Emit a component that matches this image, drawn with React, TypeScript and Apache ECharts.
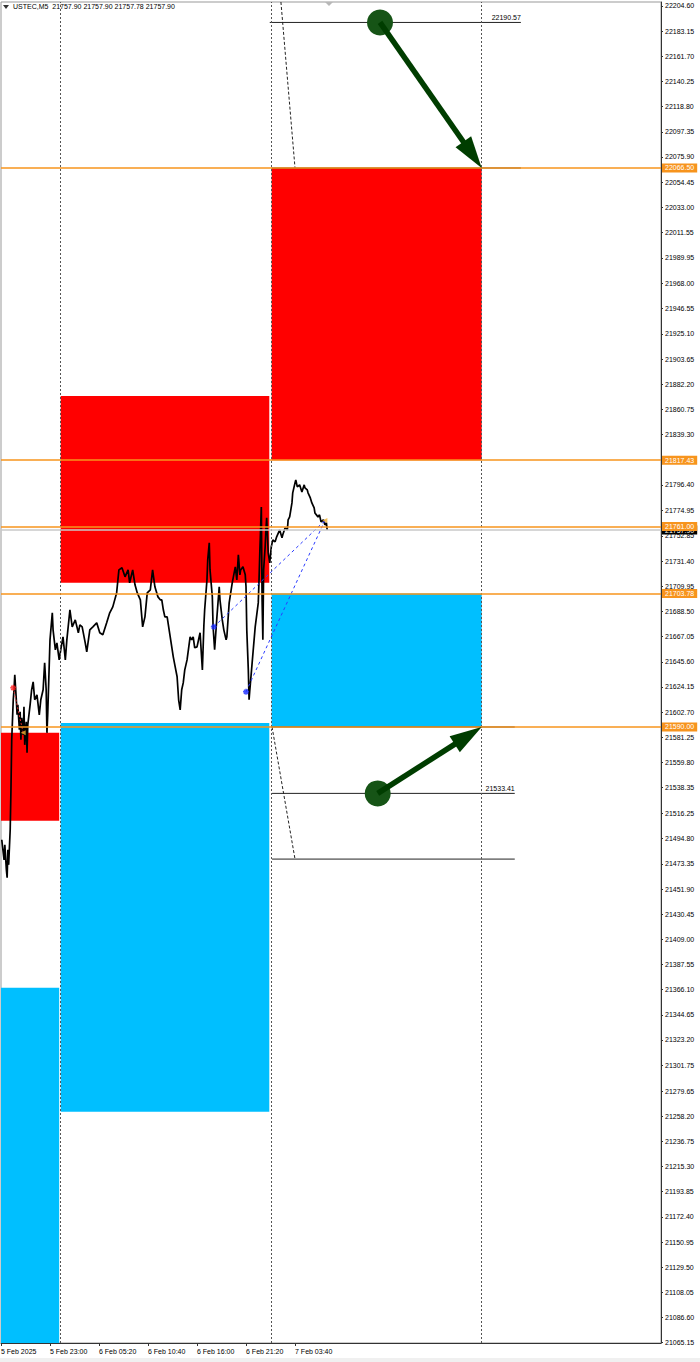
import React, { useEffect, useRef } from "react";
import * as echarts from "echarts";

const SYMBOL_TITLE = "USTEC,M5";
const OHLC_TEXT = "21757.90 21757.90 21757.78 21757.90";

const timeTickIndex = [0, 64, 128, 192, 256, 320, 384];
const timeTickLabels = ["5 Feb 2025", "5 Feb 23:00", "6 Feb 05:20", "6 Feb 10:40", "6 Feb 16:00", "6 Feb 21:20", "7 Feb 03:40"];

const priceTickValues = [
  22204.6, 22183.15, 22161.7, 22140.25, 22118.8, 22097.35, 22075.9, 22054.45, 22033.0, 22011.55,
  21989.95, 21968.0, 21946.55, 21925.1, 21903.65, 21882.2, 21860.75, 21839.3, 21817.85, 21796.4,
  21774.95, 21752.85, 21731.4, 21709.95, 21688.5, 21667.05, 21645.6, 21624.15, 21602.7, 21581.25,
  21559.8, 21538.35, 21516.25, 21494.8, 21473.35, 21451.9, 21430.45, 21409.0, 21387.55, 21366.1,
  21344.65, 21323.2, 21301.75, 21279.65, 21258.2, 21236.75, 21215.3, 21193.85, 21172.4, 21150.95,
  21129.5, 21108.05, 21086.6, 21065.15,
];

const priceMin = 21064.9;
const priceMax = 22208.0;
const barMin = 0;
const barMax = 862;

// [bar index (M5 bars from 5 Feb 17:40), price]
const closePath: [number, number][] = [
  [1, 21493.9], [4, 21476.8], [5, 21489.6], [7, 21468.3], [8, 21461.5], [9, 21485.3], [10, 21472.5], [12, 21502.4],
  [13, 21536.5], [14, 21579.1], [16, 21613.2], [17, 21621.7], [18, 21634.5], [20, 21613.2], [21, 21600.4], [22, 21608.9],
  [24, 21587.6], [25, 21602.9], [26, 21579.1], [27, 21597.8], [29, 21583.3], [30, 21607.2], [31, 21574.8], [33, 21594.4],
  [34, 21568.0], [35, 21591.9], [38, 21608.9], [40, 21621.7], [42, 21628.5], [44, 21613.2], [47, 21617.4], [50, 21600.4],
  [52, 21613.2], [55, 21621.7], [57, 21644.7], [59, 21621.7], [60, 21585.0], [61, 21600.4], [64, 21664.3], [67, 21687.3],
  [68, 21672.8], [71, 21655.8], [73, 21661.7], [76, 21647.2], [78, 21655.8], [81, 21666.9], [84, 21647.2], [86, 21664.3],
  [90, 21689.9], [93, 21675.4], [97, 21681.3], [101, 21670.3], [103, 21677.1], [106, 21675.4], [110, 21661.7], [112, 21654.1],
  [116, 21672.8], [120, 21675.4], [125, 21678.8], [129, 21670.3], [133, 21668.6], [138, 21678.8], [142, 21687.3], [146, 21692.4],
  [151, 21704.3], [154, 21723.9], [158, 21725.7], [162, 21718.0], [166, 21723.9], [168, 21712.9], [172, 21723.9], [175, 21711.2],
  [178, 21704.3], [182, 21698.4], [185, 21675.4], [188, 21683.9], [191, 21704.3], [195, 21706.9], [198, 21723.9], [201, 21709.5],
  [205, 21700.9], [208, 21698.4], [210, 21698.4], [212, 21689.9], [214, 21683.9], [217, 21683.9], [221, 21666.9], [225, 21649.8],
  [227, 21643.0], [230, 21632.8], [232, 21613.2], [234, 21604.6], [236, 21621.7], [238, 21627.6], [240, 21638.7], [243, 21647.2],
  [247, 21666.9], [249, 21664.3], [251, 21666.9], [253, 21657.5], [256, 21658.3], [260, 21670.3], [263, 21638.7], [265, 21677.1],
  [266, 21689.9], [269, 21715.4], [270, 21732.5], [272, 21747.0], [273, 21723.9], [276, 21700.9], [277, 21675.4], [279, 21655.8],
  [282, 21683.9], [285, 21709.5], [286, 21698.4], [289, 21681.3], [291, 21672.8], [294, 21664.3], [295, 21666.9], [298, 21695.8],
  [302, 21712.9], [306, 21726.5], [308, 21715.4], [310, 21736.7], [312, 21719.7], [313, 21723.9], [316, 21726.5], [319, 21719.7],
  [320, 21709.5], [321, 21672.8], [323, 21638.7], [324, 21613.2], [325, 21621.7], [328, 21644.7], [332, 21675.4], [334, 21685.6],
  [336, 21695.8], [337, 21715.4], [338, 21738.4], [340, 21777.6], [341, 21698.4], [342, 21664.3], [343, 21723.9], [345, 21743.6],
  [346, 21758.0], [347, 21768.3], [349, 21738.4], [351, 21729.9], [353, 21743.6], [355, 21749.5], [358, 21747.8], [360, 21752.1],
  [364, 21758.0], [367, 21751.2], [368, 21753.8], [371, 21759.7], [374, 21758.0], [375, 21766.6], [377, 21769.1], [380, 21781.0],
  [381, 21789.6], [384, 21798.1], [385, 21800.6], [387, 21794.7], [390, 21796.4], [393, 21790.4], [396, 21796.4], [397, 21793.8],
  [400, 21792.1], [401, 21789.6], [404, 21785.3], [406, 21781.0], [409, 21776.8], [410, 21772.5], [414, 21769.1], [416, 21770.8],
  [418, 21764.9], [421, 21766.6], [423, 21762.3], [425, 21764.0], [426, 21757.9],
];

const sessionSeparators = [77, 352.6, 627.8];
const orangeLevels = [22066.5, 21817.43, 21761.0, 21703.78, 21590.0];
const bidPrice = 21757.9;

// [barFrom, priceTop, barTo, priceBottom]
const supplyZones: number[][] = [
  [0, 21585.0, 76, 21510.1],
  [78, 21872.2, 350.4, 21712.9],
  [353.5, 22066.5, 627.8, 21817.43],
];
const demandZones: number[][] = [
  [0, 21367.7, 76, 21064.9],
  [78, 21593.5, 350.4, 21262.0],
  [353.5, 21703.78, 627.8, 21590.0],
];

// [barFrom, barTo, price]
const targetLines: number[][] = [
  [351, 679, 22190.57],
  [353.5, 679, 22066.5],
  [354, 671, 21590.0],
  [354, 671, 21533.41],
  [354, 671, 21477.4],
];
const labelledTargets = [22190.57, 21533.41];

const projectionLines: number[][] = [
  [365.6, 22208.0, 384, 22066.5],
  [354, 21590.0, 384, 21477.4],
];
const arrowMoves: number[][] = [
  [495, 22190.57, 627.8, 22066.5],
  [492, 21533.41, 627.8, 21590.0],
];
const tradeLinks: number[][] = [
  [278, 21675.4, 423, 21766.0],
  [320, 21620.0, 423, 21766.0],
];
const entryMarks: number[][] = [[278, 21675.4], [320, 21620.0]];
const signalLinks: number[][] = [[16, 21623.4, 29, 21585.0]];
const signalMark: number[][] = [[16, 21623.4]];
const closeMarks: number[][] = [[29, 21585.0], [423, 21766.0]];

const FONT = "Liberation Sans, Arial, sans-serif";
const FS = 7;
const ORANGE = "#f7941d";

function segmentSeries(name: string, data: number[][], style: any, z: number, labels?: number[]) {
  return {
    type: "custom",
    name,
    z,
    silent: true,
    data,
    encode: { x: [0, 2], y: [1, 3] },
    renderItem: (_p: any, api: any) => {
      const a = api.coord([api.value(0), api.value(1)]);
      const b = api.coord([api.value(2), api.value(3)]);
      const children: any[] = [
        { type: "line", shape: { x1: a[0], y1: a[1], x2: b[0], y2: b[1] }, style },
      ];
      const v = api.value(3);
      if (labels && labels.indexOf(v) >= 0) {
        children.push({
          type: "text",
          x: b[0],
          y: b[1] - 1,
          style: {
            text: v.toFixed(2),
            fontSize: FS,
            fontFamily: FONT,
            fill: "#000",
            align: "right",
            verticalAlign: "bottom",
          },
        });
      }
      return { type: "group", children };
    },
  };
}

function rectSeries(name: string, data: number[][], fill: string, z: number) {
  return {
    type: "custom",
    name,
    z,
    silent: true,
    data,
    encode: { x: [0, 2], y: [1, 3] },
    renderItem: (_p: any, api: any) => {
      const a = api.coord([api.value(0), api.value(1)]);
      const b = api.coord([api.value(2), api.value(3)]);
      return {
        type: "rect",
        shape: { x: a[0], y: a[1], width: b[0] - a[0], height: b[1] - a[1] },
        style: { fill },
      };
    },
  };
}

export default function App() {
  const ref = useRef<HTMLDivElement>(null);

  useEffect(() => {
    if (!ref.current) return;
    const chart = echarts.init(ref.current, undefined, { renderer: "svg" });

    const levelLabel = (bg: string, v: number) => ({
      show: true,
      position: "end",
      distance: 1,
      formatter: v.toFixed(2),
      backgroundColor: bg,
      color: "#fff",
      fontSize: FS,
      fontFamily: FONT,
      padding: [1, 3, 1, 3],
    });

    const option: any = {
      animation: false,
      backgroundColor: "#fff",
      textStyle: { fontFamily: FONT },
      grid: {
        left: 1,
        right: 39,
        top: 2,
        bottom: 19,
        containLabel: false,
        outerBoundsMode: "none",
        show: true,
        borderColor: "#999",
        borderWidth: 1,
        backgroundColor: "#fff",
      },
      xAxis: {
        type: "value",
        min: barMin,
        max: barMax,
        splitLine: { show: false },
        axisLine: { show: true, onZero: false, lineStyle: { color: "#333", width: 1 } },
        axisTick: { show: true, customValues: timeTickIndex, length: 3, lineStyle: { color: "#333" } },
        axisLabel: {
          customValues: timeTickIndex,
          formatter: (v: number) => timeTickLabels[timeTickIndex.indexOf(v)] ?? "",
          align: "left",
          margin: 5,
          fontSize: FS,
          fontFamily: FONT,
          color: "#000",
        },
      },
      yAxis: {
        type: "value",
        position: "right",
        min: priceMin,
        max: priceMax,
        scale: true,
        splitLine: { show: false },
        axisLine: { show: true, onZero: false, lineStyle: { color: "#333", width: 1 } },
        axisTick: { show: true, customValues: priceTickValues, length: 2, lineStyle: { color: "#333" } },
        axisLabel: {
          customValues: priceTickValues,
          formatter: (v: number) => v.toFixed(2),
          margin: 4,
          fontSize: FS,
          fontFamily: FONT,
          color: "#000",
        },
      },
      graphic: [
        { type: "polygon", shape: { points: [[3, 5], [9, 5], [6, 9]] }, style: { fill: "#333" } },
        {
          type: "text",
          left: 13,
          top: 3,
          style: { text: SYMBOL_TITLE + "  " + OHLC_TEXT, fontSize: FS, fontFamily: FONT, fill: "#000" },
        },
        { type: "polygon", shape: { points: [[325, 2], [333, 2], [329, 6]] }, style: { fill: "#b8b8b8" } },
        { type: "rect", shape: { x: 0, y: 1358, width: 700, height: 4 }, style: { fill: "#f0f0f0" } },
      ],
      series: [
        rectSeries("supply", supplyZones, "#ff0000", 1),
        rectSeries("demand", demandZones, "#00bfff", 1),
        {
          type: "line",
          name: "USTEC",
          z: 3,
          data: closePath,
          showSymbol: false,
          silent: true,
          lineStyle: { color: "#000", width: 1.7 },
          markLine: {
            silent: true,
            symbol: ["none", "none"],
            animation: false,
            data: [
              ...sessionSeparators.map((x) => ({
                xAxis: x,
                lineStyle: { color: "#555", type: [2, 2], width: 1 },
                label: { show: false },
              })),
              { yAxis: bidPrice, lineStyle: { color: "#c8c8c8", type: "solid", width: 1.5 }, label: levelLabel("#000", bidPrice) },
              ...orangeLevels.map((v) => ({
                yAxis: v,
                lineStyle: { color: ORANGE, type: "solid", width: 1.5 },
                label: levelLabel(ORANGE, v),
              })),
            ],
          },
        },
        segmentSeries(
          "targets",
          targetLines.map((t) => [t[0], t[2], t[1], t[2]]),
          { stroke: "#222", lineWidth: 1 },
          4,
          labelledTargets
        ),
        segmentSeries("projections", projectionLines, { stroke: "#222", lineWidth: 1, lineDash: [3, 2] }, 4),
        segmentSeries("links", tradeLinks, { stroke: "#2b3cff", lineWidth: 1, lineDash: [3, 3] }, 4),
        segmentSeries("signal", signalLinks, { stroke: "#e03030", lineWidth: 1, lineDash: [2, 2] }, 4),
        {
          type: "scatter",
          name: "entries",
          z: 5,
          silent: true,
          data: entryMarks,
          symbol: "path://M5 0 L5 10 M0 5 L10 5 M1.5 1.5 L8.5 8.5 M8.5 1.5 L1.5 8.5",
          symbolSize: 6,
          itemStyle: { color: "none", borderColor: "#1a2cff", borderWidth: 1.5 },
        },
        {
          type: "scatter",
          name: "signal mark",
          z: 5,
          silent: true,
          data: signalMark,
          symbol: "path://M5 0 L5 10 M0 5 L10 5 M1.5 1.5 L8.5 8.5 M8.5 1.5 L1.5 8.5",
          symbolSize: 6,
          itemStyle: { color: "none", borderColor: "#ff2020", borderWidth: 1.5 },
        },
        {
          type: "scatter",
          name: "closes",
          z: 5,
          silent: true,
          data: closeMarks,
          symbol: "triangle",
          symbolRotate: 90,
          symbolSize: 5,
          itemStyle: { color: "#f0b030" },
        },
        {
          type: "custom",
          name: "arrows",
          z: 6,
          silent: true,
          data: arrowMoves,
          encode: { x: [0, 2], y: [1, 3] },
          renderItem: (_p: any, api: any) => {
            const p0 = api.coord([api.value(0), api.value(1)]);
            const p1 = api.coord([api.value(2), api.value(3)]);
            const dx = p1[0] - p0[0];
            const dy = p1[1] - p0[1];
            const len = Math.hypot(dx, dy);
            const ux = dx / len;
            const uy = dy / len;
            const headLen = 32;
            const headHalf = 9.5;
            const bx = p1[0] - ux * headLen;
            const by = p1[1] - uy * headLen;
            const nx = -uy;
            const ny = ux;
            return {
              type: "group",
              children: [
                { type: "circle", shape: { cx: p0[0], cy: p0[1], r: 13 }, style: { fill: "#165416" } },
                {
                  type: "line",
                  shape: { x1: p0[0], y1: p0[1], x2: bx + ux * 3, y2: by + uy * 3 },
                  style: { stroke: "#003d00", lineWidth: 5.5 },
                },
                {
                  type: "polygon",
                  shape: {
                    points: [
                      [p1[0], p1[1]],
                      [bx + nx * headHalf, by + ny * headHalf],
                      [bx - nx * headHalf, by - ny * headHalf],
                    ],
                  },
                  style: { fill: "#003d00" },
                },
              ],
            };
          },
        },
      ],
    };

    chart.setOption(option);
    return () => chart.dispose();
  }, []);

  return <div ref={ref} style={{ position: "absolute", left: 0, top: 0, width: 700, height: 1362 }} />;
}
